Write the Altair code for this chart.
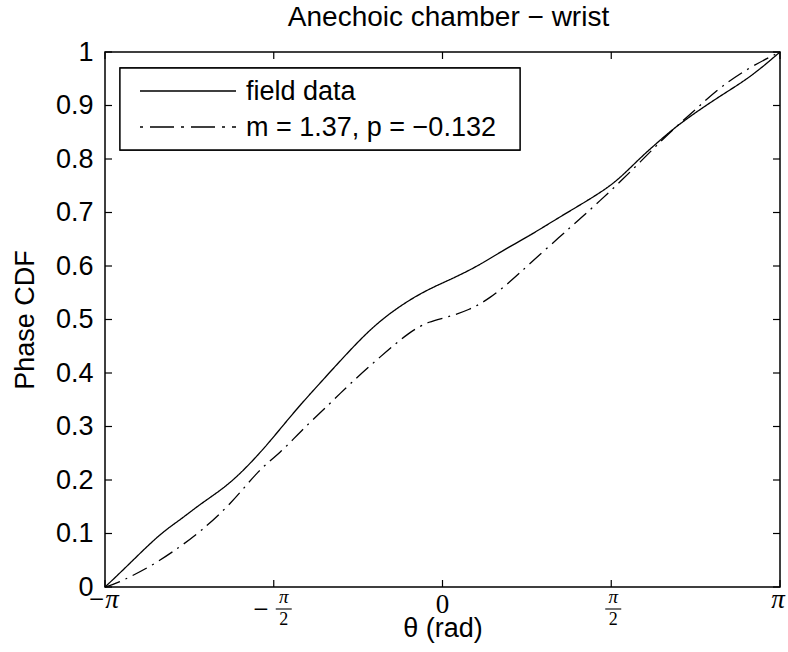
import math

import altair as alt
import pandas as pd

PI = math.pi

# Empirical phase CDF measured at the wrist in the anechoic chamber
field_theta = [-PI, -2.9554, -2.6296, -2.4435, -2.2573, -1.9780, -1.6988, -1.5126,
               -1.3265, -1.1403, -0.8610, -0.5818, -0.2094, 0.0698, 0.3491, 0.5352,
               0.8145, 1.0937, 1.4661, 1.6522, 1.8384, 2.0246, 2.2107, 2.5831,
               2.8623, PI]
field_cdf = [0.0, 0.035, 0.1, 0.125, 0.155, 0.192, 0.25, 0.295,
             0.34, 0.381, 0.443, 0.5, 0.55, 0.574, 0.602, 0.626,
             0.657, 0.692, 0.736, 0.764, 0.802, 0.835, 0.867, 0.918,
             0.952, 1.0]

# Fitted model CDF (m = 1.37, p = -0.132)
model_theta = [-PI, -3.0485, -2.7227, -2.4435, -2.2573, -1.9780, -1.6988, -1.5126,
               -1.3265, -1.0472, -0.8610, -0.5818, -0.3025, -0.1164, 0.0233, 0.2560,
               0.4421, 0.6283, 0.8145, 1.0937, 1.2799, 1.4661, 1.6522, 1.8384,
               2.0246, 2.2107, 2.3969, 2.5831, 2.8623, PI]
model_cdf = [0.0, 0.005, 0.037, 0.075, 0.103, 0.153, 0.222, 0.25,
             0.29, 0.343, 0.38, 0.43, 0.478, 0.497, 0.503, 0.518,
             0.54, 0.57, 0.605, 0.655, 0.688, 0.722, 0.757, 0.794,
             0.832, 0.867, 0.9, 0.934, 0.972, 1.0]

series_names = ["field data", "m = 1.37, p = −0.132"]
series_dash = [[1, 0], [16, 6, 2, 6]]
legend_dash = [[1, 0], [24, 7, 3, 7]]
legend_dash_offset = [0, 31]

chart_title = ["Anechoic chamber − wrist"]
y_ticks = [0.0, 0.1, 0.2, 0.3, 0.4, 0.5, 0.6, 0.7, 0.8, 0.9, 1.0]
x_ticks = [-PI, -PI / 2, 0.0, PI / 2, PI]
x_tick_sign = ["−", "−", "", "", ""]
x_tick_num = ["π", "π", "0", "π", "π"]
x_tick_den = ["", "2", "", "2", ""]

W, H = 675, 535
SANS = "Liberation Sans"
SERIF = "Liberation Serif"
FS = 27
TICK = 7

curves = pd.concat([
    pd.DataFrame({"theta": field_theta, "cdf": field_cdf, "series": series_names[0]}),
    pd.DataFrame({"theta": model_theta, "cdf": model_cdf, "series": series_names[1]}),
])
ytick_df = pd.DataFrame({"cdf": y_ticks})
xlab_df = pd.DataFrame({"theta": x_ticks, "sign": x_tick_sign,
                        "num": x_tick_num, "den": x_tick_den})
legend_df = pd.DataFrame({"series": series_names})
title_df = pd.DataFrame({"label": chart_title})

xs = alt.Scale(domain=[-PI, PI], nice=False, zero=False)
ys = alt.Scale(domain=[0, 1], nice=False, zero=False)
dash_scale = alt.Scale(domain=series_names, range=series_dash)

x_axis = alt.Axis(labels=False, ticks=False, domain=False, grid=False,
                  title="θ (rad)", titleFont=SANS, titleFontSize=FS,
                  titleFontWeight="normal", titleColor="black",
                  titleX=W / 2, titleY=49, titleBaseline="alphabetic",
                  titleAlign="center")
y_axis = alt.Axis(values=y_ticks, format=".1~f", ticks=False, domain=False,
                  grid=False, labelFont=SANS, labelFontSize=FS,
                  labelColor="black", labelPadding=12, labelOverlap=False,
                  labelFlush=False, labelBound=False,
                  title="Phase CDF", titleFont=SANS, titleFontSize=FS,
                  titleFontWeight="normal", titleColor="black",
                  titleX=-72, titleY=H / 2, titleBaseline="alphabetic",
                  titleAlign="center", titleAngle=270)

X = alt.X("theta:Q", scale=xs, axis=x_axis)
Y = alt.Y("cdf:Q", scale=ys, axis=y_axis)

lines = alt.Chart(curves).mark_line(
    color="black", strokeWidth=1.3, interpolate="basis"
).encode(
    x=X, y=Y,
    strokeDash=alt.StrokeDash("series:N", scale=dash_scale, legend=None),
    detail="series:N",
)

# Inward tick marks on all four sides of the box
ytick_base = alt.Chart(ytick_df).mark_rule(color="black", strokeWidth=1.2)
ytick_left = ytick_base.encode(y=Y, x=alt.value(0), x2=alt.value(TICK))
ytick_right = ytick_base.encode(y=Y, x=alt.value(W - TICK), x2=alt.value(W))

xtick_base = alt.Chart(xlab_df).mark_rule(color="black", strokeWidth=1.2)
xtick_bottom = xtick_base.encode(x=X, y=alt.value(H - TICK), y2=alt.value(H))
xtick_top = xtick_base.encode(x=X, y=alt.value(0), y2=alt.value(TICK))

# x tick labels typeset as math: −π, −π/2, 0, π/2, π
xlab = alt.Chart(xlab_df).transform_calculate(full="datum.sign + datum.num")
zero_label = xlab.transform_filter(alt.datum.num == "0").mark_text(
    font=SERIF, fontSize=FS, baseline="alphabetic", align="center", color="black"
).encode(x=X, y=alt.value(H + 26), text="full:N")
pi_label = xlab.transform_filter(
    (alt.datum.num == "π") & (alt.datum.den == "")
).mark_text(
    font=SERIF, fontSize=FS, fontStyle="italic", baseline="alphabetic",
    align="center", color="black", dx=-2
).encode(x=X, y=alt.value(H + 21), text="full:N")

frac = xlab.transform_filter(alt.datum.den == "2")
frac_neg = frac.transform_filter(alt.datum.sign == "−")
frac_pos = frac.transform_filter(alt.datum.sign == "")


def fraction_layers(src, shift):
    num = src.mark_text(
        font=SERIF, fontSize=19, fontStyle="italic", baseline="alphabetic",
        align="center", color="black", dx=shift
    ).encode(x=X, y=alt.value(H + 16), text="num:N")
    den = src.mark_text(
        font=SERIF, fontSize=18, baseline="alphabetic", align="center",
        color="black", dx=shift
    ).encode(x=X, y=alt.value(H + 38), text="den:N")
    bar = src.mark_rule(
        color="black", strokeWidth=1.1, xOffset=shift - 8, x2Offset=shift + 8
    ).encode(x=X, x2="theta:Q", y=alt.value(H + 22))
    return [num, bar, den]


minus_neg = frac_neg.mark_text(
    font=SERIF, fontSize=FS, baseline="alphabetic", align="center",
    color="black", dx=-13
).encode(x=X, y=alt.value(H + 31), text="sign:N")

# Title above the box
title = alt.Chart(title_df).mark_text(
    font=SANS, fontSize=28, baseline="alphabetic", align="center", color="black"
).encode(x=alt.value(W / 2 + 6), y=alt.value(-26), text="label:N")

# Legend box in the upper-left corner
LX0, LY0, LX1, LY1 = 15, 16, 415, 98
legend_box = alt.Chart(legend_df).mark_rect(
    fill="white", stroke="black", strokeWidth=1.3
).encode(x=alt.value(LX0), x2=alt.value(LX1), y=alt.value(LY0), y2=alt.value(LY1))

legend_layers = [legend_box]
for i, name in enumerate(series_names):
    row_y = 39 + 36 * i
    src = alt.Chart(legend_df).transform_filter(alt.datum.series == name)
    legend_layers.append(
        src.mark_rule(color="black", strokeWidth=1.3, strokeDash=legend_dash[i],
                      strokeDashOffset=legend_dash_offset[i]).encode(
            x=alt.value(35), x2=alt.value(131), y=alt.value(row_y))
    )
    legend_layers.append(
        src.mark_text(font=SANS, fontSize=FS, align="left", baseline="middle",
                      color="black").encode(
            x=alt.value(141), y=alt.value(row_y + 1), text="series:N")
    )

chart = alt.layer(
    lines, ytick_left, ytick_right, xtick_bottom, xtick_top,
    zero_label, pi_label, minus_neg,
    *fraction_layers(frac_neg, 10), *fraction_layers(frac_pos, 2),
    title, *legend_layers,
).properties(
    width=W, height=H,
    autosize=alt.AutoSizeParams(type="none"),
    padding={"left": 105, "top": 52, "right": 8, "bottom": 65},
).configure(
    background="white",
).configure_view(
    stroke="black", strokeWidth=1.5, fill="white",
)

chart.save("out.html", embed_options={"renderer": "svg", "actions": False})
